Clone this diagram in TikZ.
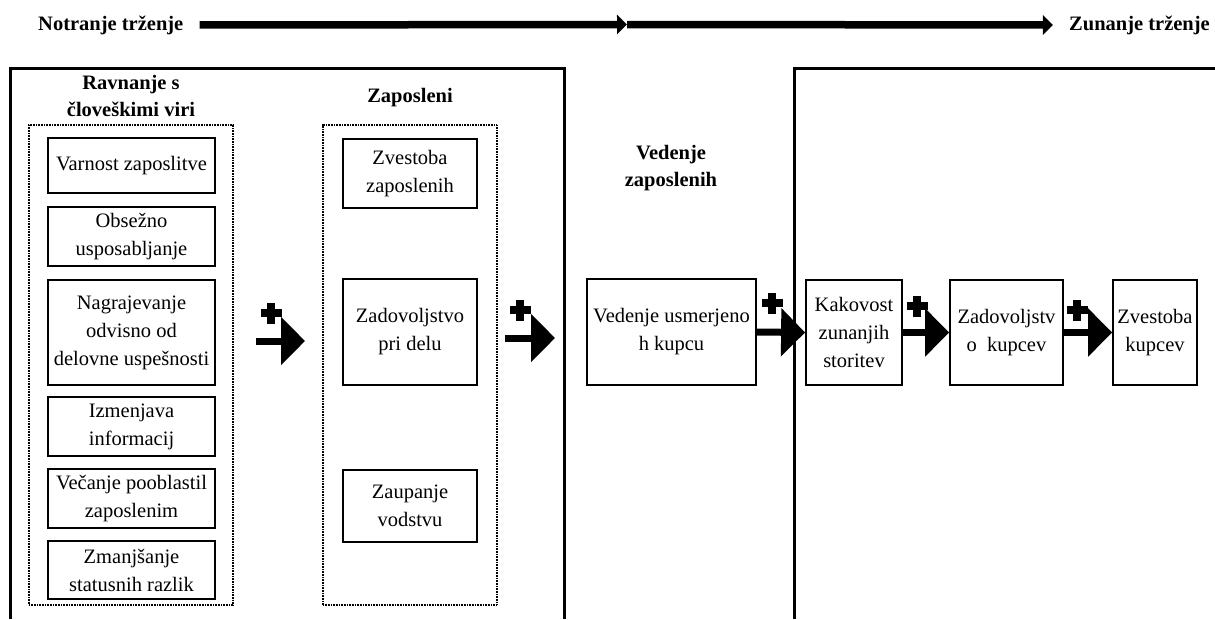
\documentclass[tikz,border=0pt]{standalone}
\usepackage{fontspec}
\setmainfont{Liberation Serif}
\usetikzlibrary{arrows.meta}

\begin{document}
\begin{tikzpicture}[x=1pt,y=-1pt,
  box/.style={draw, line width=1.8pt, align=center, inner sep=0pt,
    font=\fontsize{20.5}{28}\selectfont},
  grp/.style={draw, line width=2.2pt, dash pattern=on 1pt off 0.6pt, inner sep=0pt},
  head/.style={align=center, inner sep=0pt, font=\fontsize{20.5}{27.5}\selectfont\bfseries},
  frame/.style={line width=3pt},
  topflow/.style={line width=7.5pt, -{Triangle[length=10pt 0, width=19pt 0]}},
  flow/.style={line width=7pt, -{Triangle[length=24pt 0, width=47pt 0]}},
  plussign/.pic={\fill (-10.5,-3.6) rectangle (10.5,3.6);
                 \fill (-3.6,-10.5) rectangle (3.6,10.5);}
]
\useasboundingbox (0,0) rectangle (1215,619);

% market orientation axis
\node[head, anchor=west] (notr) at (38,25) {Notranje trženje};
\node[head, anchor=east] (zun) at (1210,25) {Zunanje trženje};
\coordinate (axmid) at (627,24.5);
\draw[topflow, shorten <=16pt] (notr.east) -- (axmid);
\draw[topflow, shorten >=16pt] (axmid) -- (zun.west);

% open frames
\draw[frame] (10,619) -- (10,68) -- (564,68) -- (564,619);
\draw[frame] (794,619) -- (794,68) -- (1215,68);

% human resource practices
\node[head] (hrmh) at (131,96) {Ravnanje s\\človeškimi viri};
\node[grp, minimum width=204pt, minimum height=480pt] (g1) at (131,365) {};
\node[box, minimum width=167pt, minimum height=55pt] (varn) at (131.5,165.5) {Varnost zaposlitve};
\node[box, minimum width=167pt, minimum height=59pt] (obs) at (131.5,236.5) {Obsežno\\usposabljanje};
\node[box, minimum width=167pt, minimum height=105pt] (nag) at (131.5,332.5) {Nagrajevanje\\odvisno od\\delovne uspešnosti};
\node[box, minimum width=167pt, minimum height=59pt] (izm) at (131.5,426.5) {Izmenjava\\informacij};
\node[box, minimum width=167pt, minimum height=59pt] (vec) at (131.5,498.5) {Večanje pooblastil\\zaposlenim};
\node[box, minimum width=167pt, minimum height=58pt] (zma) at (131.5,570) {Zmanjšanje\\statusnih razlik};

% employees
\node[head] (zaph) at (410,98) {Zaposleni};
\node[grp, minimum width=174pt, minimum height=480pt] (g2) at (410,365) {};
\node[box, minimum width=134pt, minimum height=69pt] (zvz) at (410,173.5) {Zvestoba\\zaposlenih};
\node[box, minimum width=134pt, minimum height=106pt] (zad) at (410,332) {Zadovoljstvo\\pri delu};
\node[box, minimum width=134pt, minimum height=72pt] (zau) at (410,506) {Zaupanje\\vodstvu};

% management
\node[head] (vedh) at (671,168) {Vedenje\\zaposlenih};
\node[box, minimum width=169pt, minimum height=106pt] (ved) at (671.5,332) {Vedenje usmerjeno\\h kupcu};

% external chain
\node[box, minimum width=96pt, minimum height=105pt] (kak) at (854,332.5) {Kakovost\\zunanjih\\storitev};
\node[box, minimum width=113pt, minimum height=105pt] (zdk) at (1006.5,332.5) {Zadovoljstv\\o~~kupcev};
\node[box, minimum width=84pt, minimum height=105pt] (zvk) at (1155,332.5) {Zvestoba\\kupcev};

% positive links
\coordinate (f1s) at (256,341);
\coordinate (f1e) at (305,341);
\draw[flow] (f1s) -- (f1e);
\pic at (271,313) {plussign};

\coordinate (f2s) at (505,338);
\coordinate (f2e) at (555,338);
\draw[flow] (f2s) -- (f2e);
\pic at (520,310) {plussign};

\draw[flow] (ved.east) -- (kak.west);
\pic at (772,303) {plussign};

\draw[flow] (kak.east) -- (zdk.west);
\pic at (917,306) {plussign};

\draw[flow] (zdk.east) -- (zvk.west);
\pic at (1077,310) {plussign};
\end{tikzpicture}
\end{document}
